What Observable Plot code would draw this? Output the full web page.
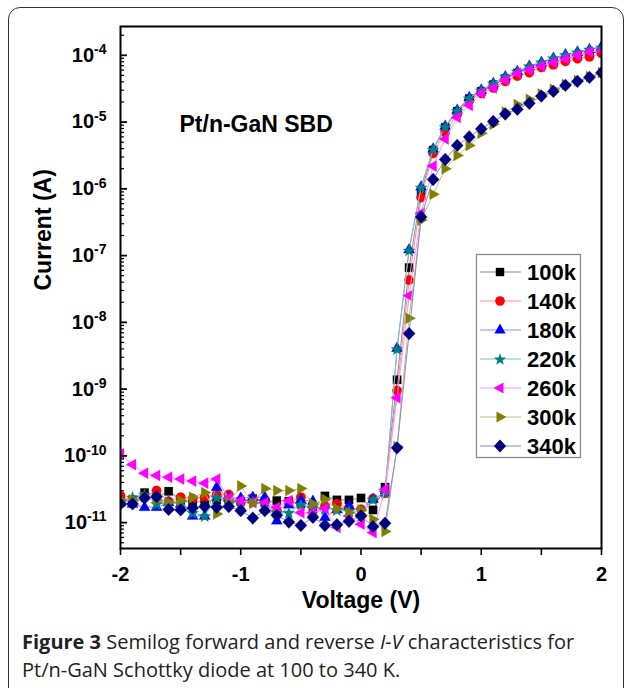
<!DOCTYPE html>
<html><head><meta charset="utf-8">
<script src="https://cdn.jsdelivr.net/npm/d3@7"></script>
<script src="https://cdn.jsdelivr.net/npm/@observablehq/plot@0.6"></script>
<style>
html,body{margin:0;padding:0;background:#fff;overflow:hidden;}
#wrap{position:relative;width:627px;height:688px;overflow:hidden;}
#border{position:absolute;left:8px;top:7px;width:616px;height:720px;border:1.5px solid #333;border-radius:12px;box-sizing:border-box;}
#chart{position:absolute;left:0;top:0;}
#legend{position:absolute;left:0;top:0;}
#caption{position:absolute;left:22px;top:628px;font-family:"Open Sans",sans-serif;font-size:20px;line-height:28px;color:#222;white-space:nowrap;letter-spacing:0px;}
</style>
</head><body>
<div id="wrap"><div id="border"></div><div id="chart"></div><svg id="legend" width="627" height="688"></svg>
<div id="caption"><b>Figure 3</b> Semilog forward and reverse <i>I-V</i> characteristics for<br>Pt/n-GaN Schottky diode at 100 to 340 K.</div></div>
<script>
const voltage = [-2.0,-1.9,-1.8,-1.7,-1.6,-1.5,-1.4,-1.3,-1.2,-1.1,-1.0,-0.9,-0.8,-0.7,-0.6,-0.5,-0.4,-0.3,-0.2,-0.1,0.0,0.1,0.2,0.3,0.4,0.5,0.6,0.7,0.8,0.9,1.0,1.1,1.2,1.3,1.4,1.5,1.6,1.7,1.8,1.9,2.0];
const current100k = [2.0e-11,2.19e-11,2.82e-11,2.40e-11,2.95e-11,2.19e-11,2.0e-11,2.09e-11,2.19e-11,2.19e-11,2.09e-11,2.29e-11,2.0e-11,2.14e-11,2.09e-11,1.91e-11,1.58e-11,2.51e-11,2.19e-11,2.19e-11,2.34e-11,1.55e-11,
  3.4e-11,1.38e-9,6.6e-8,8.9e-7,3.8e-6,8.3e-6,1.45e-5,2.24e-5,2.88e-5,3.63e-5,4.47e-5,5.4e-5,6.2e-5,7.1e-5,7.9e-5,8.9e-5,9.8e-5,1.05e-4,1.15e-4];
const current140k = [2.51e-11,2.19e-11,2.40e-11,3.02e-11,2.09e-11,2.40e-11,2.29e-11,2.40e-11,2.63e-11,2.63e-11,2.0e-11,2.29e-11,2.19e-11,1.51e-11,2.0e-11,2.40e-11,1.23e-11,1.78e-11,1.91e-11,1.66e-11,1.58e-11,2.29e-11,
  2.75e-11,9.5e-10,4.3e-8,7.4e-7,3.4e-6,7.1e-6,1.32e-5,2.14e-5,2.69e-5,3.24e-5,4.07e-5,4.9e-5,5.5e-5,6.6e-5,7.2e-5,8.1e-5,8.9e-5,9.5e-5,1.07e-4];
const current180k = [2.0e-11,1.91e-11,1.70e-11,1.70e-11,2.0e-11,1.91e-11,1.26e-11,1.26e-11,3.4e-11,2.34e-11,2.34e-11,2.40e-11,2.40e-11,1.07e-11,1.86e-11,2.19e-11,2.09e-11,1.20e-11,1.58e-11,1.78e-11,1.41e-11,2.24e-11,
  2.82e-11,4.1e-9,1.23e-7,1.07e-6,3.98e-6,8.7e-6,1.51e-5,2.34e-5,3.02e-5,3.8e-5,4.79e-5,5.75e-5,6.9e-5,7.9e-5,9.1e-5,1.02e-4,1.12e-4,1.23e-4,1.35e-4];
const current220k = [2.09e-11,2.40e-11,2.63e-11,1.91e-11,2.0e-11,2.0e-11,1.41e-11,1.26e-11,2.40e-11,2.19e-11,2.0e-11,2.09e-11,1.91e-11,1.41e-11,1.41e-11,1.86e-11,1.66e-11,1.62e-11,1.55e-11,1.51e-11,1.26e-11,2.24e-11,
  2.82e-11,4.0e-9,1.2e-7,1.05e-6,3.9e-6,8.5e-6,1.48e-5,2.29e-5,3.0e-5,3.8e-5,4.8e-5,5.75e-5,6.9e-5,7.9e-5,9.1e-5,1.02e-4,1.12e-4,1.23e-4,1.32e-4];
const current260k = [1.07e-10,7.4e-11,5.5e-11,5.1e-11,4.8e-11,4.5e-11,4.2e-11,3.9e-11,4.5e-11,2.34e-11,2.14e-11,2.0e-11,2.0e-11,1.70e-11,2.14e-11,1.41e-11,1.41e-11,1.62e-11,8.5e-12,1.26e-11,9.5e-12,7.1e-12,
  3.16e-11,7.4e-10,2.51e-8,4.3e-7,2.19e-6,5.6e-6,1.17e-5,1.78e-5,2.69e-5,3.24e-5,4.27e-5,5.4e-5,6.0e-5,6.9e-5,7.8e-5,8.9e-5,1.0e-4,1.12e-4,1.17e-4];
const current300k = [2.19e-11,2.19e-11,2.40e-11,2.19e-11,2.0e-11,2.14e-11,2.40e-11,2.82e-11,1.35e-11,2.0e-11,3.55e-11,1.95e-11,3.24e-11,3.02e-11,3.02e-11,3.24e-11,1.91e-11,2.24e-11,1.62e-11,1.41e-11,1.55e-11,1.12e-11,
  7.4e-12,1.38e-10,1.15e-8,3.4e-7,8.3e-7,2.0e-6,3.16e-6,4.47e-6,6.8e-6,9.3e-6,1.41e-5,1.82e-5,2.19e-5,2.63e-5,3.09e-5,3.63e-5,4.17e-5,4.79e-5,5.5e-5];
const current340k = [1.91e-11,1.91e-11,2.34e-11,2.45e-11,1.58e-11,1.55e-11,1.66e-11,1.74e-11,1.70e-11,1.74e-11,1.51e-11,1.17e-11,1.51e-11,1.29e-11,1.02e-11,9.1e-12,1.20e-11,9.1e-12,9.3e-12,1.05e-11,1.26e-11,8.7e-12,
  9.8e-12,1.32e-10,6.8e-9,3.8e-7,1.38e-6,2.75e-6,4.47e-6,6.0e-6,7.9e-6,1.02e-5,1.32e-5,1.55e-5,1.91e-5,2.45e-5,2.88e-5,3.55e-5,4.07e-5,4.68e-5,5.5e-5];

const temps = ["100k","140k","180k","220k","260k","300k","340k"];
const markerColors = ["#000000","#ff0000","#0000ff","#008080","#ff00ff","#808000","#000080"];
const lineColors = ["#8c8c8c","#ff9090","#9090ff","#80c0c0","#ff90ff","#c0c080","#8a8ac4"];
const currents = [current100k,current140k,current180k,current220k,current260k,current300k,current340k];

const xTicks = [-2,-1.5,-1,-0.5,0,0.5,1,1.5,2];
const yTicks = [1e-11,1e-10,1e-9,1e-8,1e-7,1e-6,1e-5,1e-4];
const yMinor = [];
for (let k = -12; k <= -4; k++) for (let m = 2; m <= 9; m++) { const v = m * Math.pow(10, k); if (v > 4.1e-12 && v < 2.7e-4) yMinor.push(v); }

// marker shapes
const poly = pts => ({draw(ctx){ ctx.moveTo(pts[0][0], pts[0][1]); for (let i = 1; i < pts.length; i++) ctx.lineTo(pts[i][0], pts[i][1]); ctx.closePath(); }});
const symSquare = poly([[-4.2,-4.2],[4.2,-4.2],[4.2,4.2],[-4.2,4.2]]);
const symCircle = {draw(ctx){ ctx.moveTo(4.8,0); ctx.arc(0,0,4.8,0,2*Math.PI); ctx.closePath(); }};
const symUp = poly([[0,-6.4],[5.6,3.5],[-5.6,3.5]]);
const starPts = []; for (let i = 0; i < 10; i++) { const a = -Math.PI/2 + i*Math.PI/5, r = i % 2 ? 2.7 : 6.4; starPts.push([r*Math.cos(a), r*Math.sin(a) + 0.6]); }
const symStar = poly(starPts);
const symLeft = poly([[-6.4,0],[3.5,-5.6],[3.5,5.6]]);
const symRight = poly([[6.4,0],[-3.5,-5.6],[-3.5,5.6]]);
const symDiamond = poly([[0,-6.4],[6.1,0],[0,6.4],[-6.1,0]]);
const symbols = [symSquare,symCircle,symUp,symStar,symLeft,symRight,symDiamond];

const seriesMarks = temps.flatMap((t, i) => {
  const data = voltage.map((v, j) => ({v, c: currents[i][j]}));
  return [
    Plot.line(data, {x: "v", y: "c", stroke: lineColors[i], strokeWidth: 1, clip: true}),
    Plot.dot(data, {x: "v", y: "c", symbol: symbols[i], fill: markerColors[i], stroke: markerColors[i], strokeWidth: 0.4, strokeOpacity: 0.6, clip: true})
  ];
});

// inward y ticks: lengths expressed in volts (x domain spans 4 V over 481 px)
const pxV = 4 / 481;
const FONT = "'Liberation Sans', Arial, sans-serif";
const chart = Plot.plot({
  width: 627, height: 620,
  marginLeft: 120, marginRight: 26, marginTop: 26, marginBottom: 72,
  style: {fontFamily: FONT, fontWeight: "bold", color: "black", background: "transparent", overflow: "visible"},
  x: {domain: [-2, 2], label: null},
  y: {type: "log", domain: [4.1e-12, 2.7e-4], label: null},
  marks: [
    ...seriesMarks,
    Plot.axisX(xTicks, {tickSize: 7, tickPadding: 11, fontSize: 20, fontWeight: "bold", strokeWidth: 1.6, tickFormat: d => Number.isInteger(d) ? String(d) : "", label: null}),
    Plot.ruleY(yMinor, {x1: -2, x2: -2 + 4 * pxV, stroke: "black", strokeWidth: 1.2}),
    Plot.ruleY(yTicks, {x1: -2, x2: -2 + 7 * pxV, stroke: "black", strokeWidth: 1.8}),
    Plot.axisY(yTicks, {tickSize: 0, tickPadding: 14, fontSize: 20, fontWeight: "bold", tickFormat: d => String(Math.round(Math.log10(d))), label: null}),
    Plot.frame({stroke: "black", strokeWidth: 2}),
    Plot.text(["Voltage (V)"], {frameAnchor: "bottom", dy: 59, text: d => d, fontSize: 23, fontWeight: "bold"}),
    Plot.text(["Current (A)"], {frameAnchor: "left", dx: -77, dy: 3, rotate: -90, text: d => d, fontSize: 23, fontWeight: "bold"}),
    Plot.text(["Pt/n-GaN SBD"], {frameAnchor: "top-left", dx: 59, dy: 89, text: d => d, textAnchor: "start", fontSize: 23, fontWeight: "bold"})
  ]
});
document.getElementById("chart").appendChild(chart);

// superscript exponents on y tick labels
d3.select(chart).selectAll('g[aria-label="y-axis tick label"] text').each(function() {
  const exp = this.textContent;
  if (!exp) return;
  const t = d3.select(this);
  t.text(null);
  t.append("tspan").text("10");
  t.append("tspan").attr("font-size", 14).attr("dy", "-0.55em").text(exp);
});

// legend
const lg = d3.select("#legend").style("font-family", FONT);
lg.append("rect").attr("x", 476.5).attr("y", 254.5).attr("width", 104).attr("height", 203)
  .attr("fill", "white").attr("stroke", "#8a8a8a").attr("stroke-width", 1.3);
temps.forEach((t, i) => {
  const y = 272 + 29 * i;
  lg.append("line").attr("x1", 480).attr("x2", 521).attr("y1", y).attr("y2", y).attr("stroke", lineColors[i]).attr("stroke-width", 1.2);
  const p = d3.path(); symbols[i].draw(p, 0);
  lg.append("path").attr("d", p.toString()).attr("transform", `translate(500,${y})`).attr("fill", markerColors[i]);
  lg.append("text").attr("x", 527).attr("y", y + 7.8).attr("font-size", 22).attr("font-weight", "bold").text(t);
});
</script>
</body></html>
